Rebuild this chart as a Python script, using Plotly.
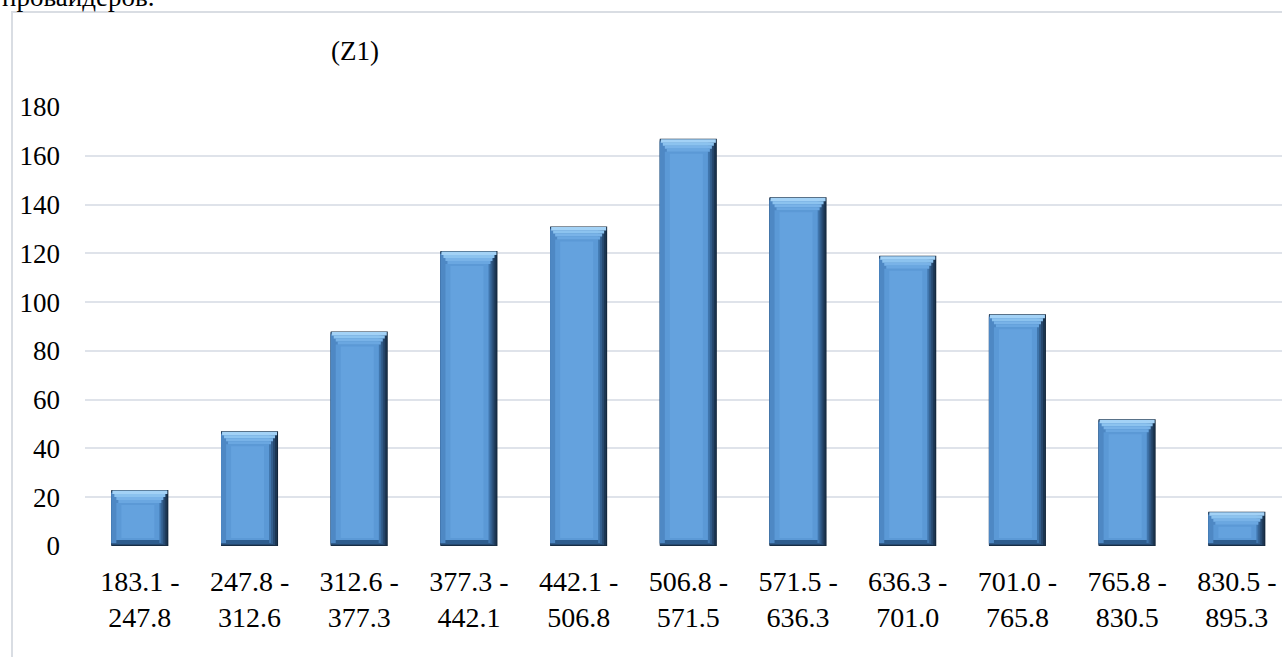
import plotly.graph_objects as go

categories = ["183.1 -<br>247.8", "247.8 -<br>312.6", "312.6 -<br>377.3", "377.3 -<br>442.1",
              "442.1 -<br>506.8", "506.8 -<br>571.5", "571.5 -<br>636.3", "636.3 -<br>701.0",
              "701.0 -<br>765.8", "765.8 -<br>830.5", "830.5 -<br>895.3"]
counts = [23, 47, 88, 121, 131, 167, 143, 119, 95, 52, 14]
y_ticks = [0, 20, 40, 60, 80, 100, 120, 140, 160, 180]

W, H = 1282, 657
ML, MR, MT, MB = 85, 0, 107, 111
plot_w = W - ML - MR
plot_h = H - MT - MB
cat_px = 109.7
y_max = 180
unit_px = plot_h / y_max
px_x = 1.0 / cat_px
px_y = 1.0 / unit_px

bw = 57 * px_x
FONT = "Times New Roman, Liberation Serif, DejaVu Serif, serif"

fig = go.Figure()

def layer(width_px, left_px, bottoms, tops, color):
    fig.add_trace(go.Bar(
        x=categories,
        y=[t - b for t, b in zip(tops, bottoms)],
        base=bottoms,
        width=width_px * px_x,
        offset=-bw / 2 + left_px * px_x,
        marker=dict(color=color, line=dict(width=0)),
        hoverinfo="skip", showlegend=False,
    ))

n = len(counts)
zeros = [0] * n
# dark outer body and right-side gradient
layer(57, 0, zeros, counts, "#13263a")
layer(56, 0, [0.5 * px_y] * n, [c - 0.5 * px_y for c in counts], "#1c3652")
layer(54, 0, [1 * px_y] * n, [c - 1 * px_y for c in counts], "#27496f")
layer(52, 0, [2 * px_y] * n, [c - 2 * px_y for c in counts], "#335f8e")
layer(50, 0, [3 * px_y] * n, [c - 3 * px_y for c in counts], "#4076ad")
# left bevel
layer(48, 0, [3 * px_y] * n, [c - 3 * px_y for c in counts], "#4e88c4")
# bottom dark band
layer(43, 5, [2 * px_y] * n, [6 * px_y] * n, "#2e5d8e")
# main face
layer(43, 5, [6 * px_y] * n, [c - 13 * px_y for c in counts], "#5b99d6")
layer(33, 10, [8 * px_y] * n, [c - 15 * px_y for c in counts], "#64a2de")
# top bevel (trapezoid approximation)
layer(55, 1, [c - 4 * px_y for c in counts], [c - 0.5 * px_y for c in counts], "#a3d2f6")
layer(51, 3, [c - 7 * px_y for c in counts], [c - 4 * px_y for c in counts], "#8cc3ef")
layer(47, 5, [c - 10 * px_y for c in counts], [c - 7 * px_y for c in counts], "#79b3e8")
layer(43, 7, [c - 13 * px_y for c in counts], [c - 10 * px_y for c in counts], "#6aa7e1")

x_end = -0.5 + plot_w / cat_px

fig.update_layout(
    width=W, height=H,
    margin=dict(l=ML, r=MR, t=MT, b=MB, pad=0),
    paper_bgcolor="white", plot_bgcolor="white",
    barmode="overlay",
    font=dict(family=FONT, size=27, color="black"),
    xaxis=dict(range=[-0.5, x_end], showgrid=False, zeroline=False, showline=False,
               ticks="", tickfont=dict(family=FONT, size=28, color="black"),
               ticklabelstandoff=16, fixedrange=True),
    yaxis=dict(range=[0, y_max], tickvals=y_ticks, showgrid=True, gridcolor="#dfe3ea",
               gridwidth=1.5, zeroline=False, showline=False, ticks="",
               tickfont=dict(family=FONT, size=27, color="black"),
               ticklabelstandoff=24, fixedrange=True),
    shapes=[dict(type="rect", xref="paper", yref="paper",
                 x0=(12 - ML) / plot_w, x1=1.05,
                 y0=-0.4, y1=(H - MB - 12) / plot_h,
                 line=dict(color="#d9dde3", width=2), fillcolor="rgba(0,0,0,0)", layer="below")],
    annotations=[
        dict(text="(Z1)", xref="paper", yref="paper",
             x=(355 - ML) / plot_w, y=(H - MB - 51) / plot_h,
             xanchor="center", yanchor="middle", showarrow=False,
             font=dict(family=FONT, size=27, color="black")),
        dict(text="провайдеров.", xref="paper", yref="paper",
             x=(0 - ML) / plot_w, y=(H - MB + 3) / plot_h,
             xanchor="left", yanchor="middle", showarrow=False,
             font=dict(family=FONT, size=27, color="black")),
    ],
)

fig.write_html("out.html")
